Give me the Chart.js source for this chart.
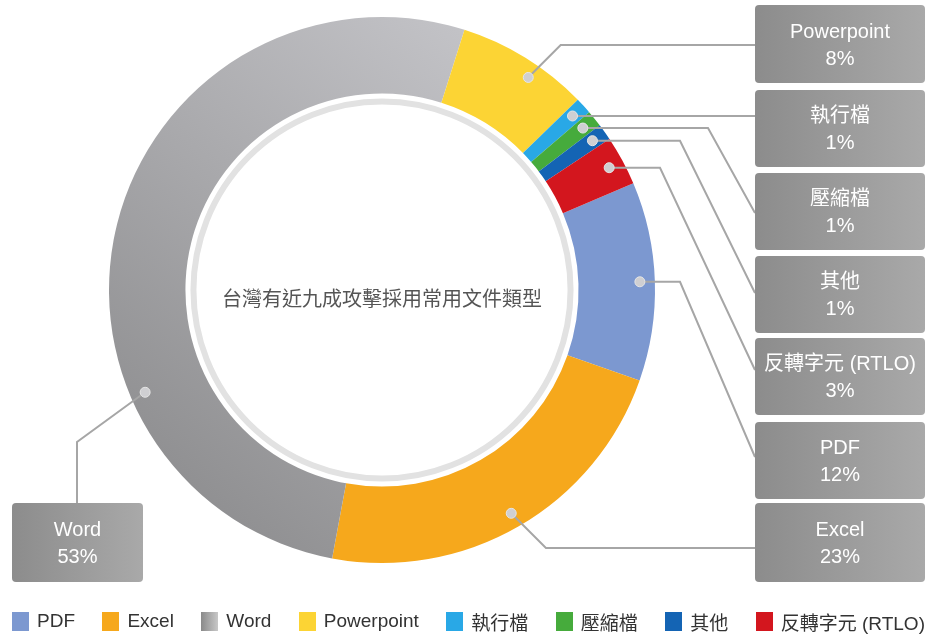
<!DOCTYPE html>
<html lang="zh-Hant">
<head>
<meta charset="UTF-8">
<title>台灣有近九成攻擊採用常用文件類型</title>
<script src="https://cdn.jsdelivr.net/npm/chart.js"></script>
<style>
  html, body { margin: 0; padding: 0; background: #fff; }
  #wrap { position: relative; width: 927px; height: 635px; }
  #legend {
    position: absolute; left: 12px; top: 609px; width: 913px; height: 24px;
    display: flex; justify-content: space-between; align-items: center;
    font: 19px "Liberation Sans", "Noto Sans CJK TC", sans-serif; color: #333;
  }
  .item { display: flex; align-items: center; white-space: nowrap; }
  .sw { width: 17px; height: 19px; margin-right: 8px; }
</style>
</head>
<body>
<div id="wrap">
  <canvas id="donut" width="927" height="635"></canvas>
  <div id="legend"></div>
</div>
<script>
const labels = ['PDF', 'Excel', 'Word', 'Powerpoint', '執行檔', '壓縮檔', '其他', '反轉字元 (RTLO)'];
const shares = [12, 23, 53, 8, 1, 1, 1, 3];
const sliceColors = ['#7c98d0', '#f6a81c', '#a9a9ad', '#fcd434', '#29a8e6', '#46ab3c', '#1464b4', '#d3161e'];
const centerTitle = '台灣有近九成攻擊採用常用文件類型';

// callout boxes (x, y, w, h), where along the slice the dot sits, and how the leader runs
const callouts = [
  { box: [755, 422, 170, 77], at: 0.5, path: d => [[d.x, d.y], [680, d.y], [755, 457]] },
  { box: [755, 503, 170, 79], at: 0.5, path: d => [[d.x, d.y], [d.x + (548 - d.y), 548], [755, 548]] },
  { box: [12, 503, 131, 79], at: 0.3, path: d => [[d.x, d.y], [77, 442], [77, 503]] },
  { box: [755, 5, 170, 78], at: 0.6, path: d => [[d.x, d.y], [d.x + (d.y - 45), 45], [755, 45]] },
  { box: [755, 90, 170, 77], at: 0.5, path: d => [[d.x, d.y], [755, d.y]] },
  { box: [755, 173, 170, 77], at: 0.5, path: d => [[d.x, d.y], [708, d.y], [755, 213]] },
  { box: [755, 256, 170, 77], at: 0.5, path: d => [[d.x, d.y], [680, d.y], [755, 293]] },
  { box: [755, 338, 170, 77], at: 0.5, path: d => [[d.x, d.y], [660, d.y], [755, 370]] }
];

function sliceFill(c) {
  if (c.type !== 'data') return sliceColors[c.dataIndex];
  if (c.dataIndex === 2) {
    const g = c.chart.ctx.createLinearGradient(110, 420, 460, 20);
    g.addColorStop(0, '#909092');
    g.addColorStop(1, '#c3c3c7');
    return g;
  }
  return sliceColors[c.dataIndex];
}

const calloutPlugin = {
  id: 'callouts',
  beforeDatasetsDraw(chart) {
    const arc = chart.getDatasetMeta(0).data[0];
    const ctx = chart.ctx;
    ctx.save();
    ctx.beginPath();
    ctx.arc(arc.x, arc.y, arc.innerRadius - 8, 0, Math.PI * 2);
    ctx.lineWidth = 6;
    ctx.strokeStyle = '#e2e2e2';
    ctx.stroke();
    ctx.fillStyle = '#555';
    ctx.font = '20px "Noto Sans CJK TC"';
    ctx.textAlign = 'center';
    ctx.textBaseline = 'middle';
    ctx.fillText(centerTitle, arc.x, arc.y + 8);
    ctx.restore();
  },
  afterDatasetsDraw(chart) {
    const ctx = chart.ctx;
    const arcs = chart.getDatasetMeta(0).data;
    ctx.save();
    arcs.forEach((a, i) => {
      const c = callouts[i];
      const ang = a.startAngle + (a.endAngle - a.startAngle) * c.at;
      const r = a.outerRadius - 15;
      const dot = { x: a.x + r * Math.cos(ang), y: a.y + r * Math.sin(ang) };
      const pts = c.path(dot);

      ctx.beginPath();
      ctx.moveTo(pts[0][0], pts[0][1]);
      for (let k = 1; k < pts.length; k++) ctx.lineTo(pts[k][0], pts[k][1]);
      ctx.strokeStyle = '#a6a6a6';
      ctx.lineWidth = 2;
      ctx.stroke();

      ctx.beginPath();
      ctx.arc(dot.x, dot.y, 5, 0, Math.PI * 2);
      ctx.fillStyle = '#cfcfd2';
      ctx.fill();
      ctx.lineWidth = 1;
      ctx.strokeStyle = '#e6e6e6';
      ctx.stroke();

      const [bx, by, bw, bh] = c.box;
      const g = ctx.createLinearGradient(bx, 0, bx + bw, 0);
      g.addColorStop(0, '#8c8c8c');
      g.addColorStop(1, '#a9a9a9');
      ctx.beginPath();
      ctx.roundRect(bx, by, bw, bh, 4);
      ctx.fillStyle = g;
      ctx.fill();

      ctx.fillStyle = '#fff';
      ctx.font = '20px "Liberation Sans", "Noto Sans CJK TC"';
      ctx.textAlign = 'center';
      ctx.textBaseline = 'middle';
      const cx = bx + bw / 2, cy = by + bh / 2;
      ctx.fillText(labels[i], cx, cy - 12);
      ctx.fillText(shares[i] + '%', cx, cy + 15);
    });
    ctx.restore();
  }
};

new Chart(document.getElementById('donut'), {
  type: 'doughnut',
  data: {
    labels: labels,
    datasets: [{
      data: shares,
      backgroundColor: sliceFill,
      borderWidth: 0
    }]
  },
  options: {
    responsive: false,
    animation: false,
    rotation: 67,
    cutout: '72%',
    layout: { padding: { left: 109, right: 272, top: 17, bottom: 72 } },
    plugins: {
      legend: { display: false },
      tooltip: { enabled: false }
    }
  },
  plugins: [calloutPlugin]
});

// legend row under the chart
const legend = document.getElementById('legend');
labels.forEach((name, i) => {
  const item = document.createElement('div');
  item.className = 'item';
  const sw = document.createElement('span');
  sw.className = 'sw';
  sw.style.background = i === 2 ? 'linear-gradient(to right, #8a8a8a, #c8c8c8)' : sliceColors[i];
  item.appendChild(sw);
  item.appendChild(document.createTextNode(name));
  legend.appendChild(item);
});
</script>
</body>
</html>
